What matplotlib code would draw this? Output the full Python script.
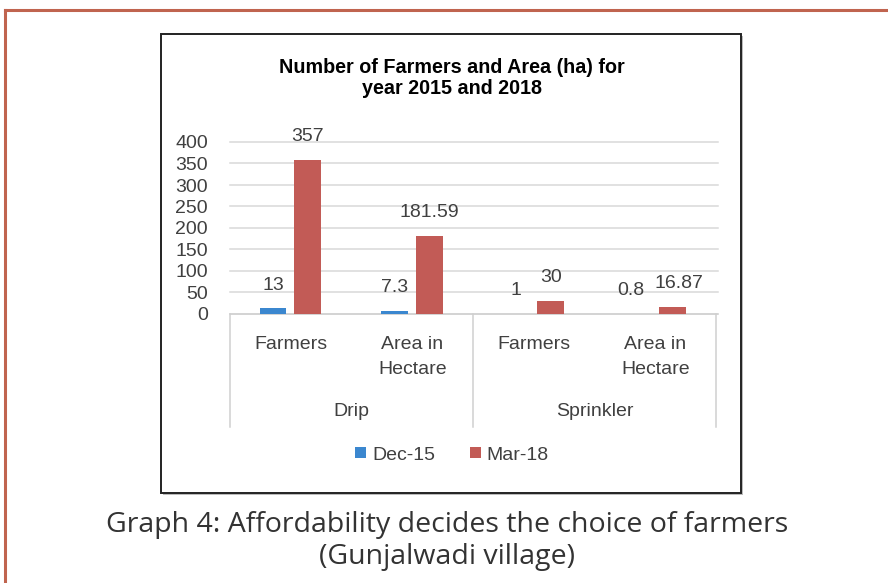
import numpy as np
import matplotlib
matplotlib.use("Agg")
import matplotlib.pyplot as plt
from matplotlib.patches import Rectangle
import matplotlib.transforms as mtransforms

# data
categories = ["Farmers", "Area in\nHectare", "Farmers", "Area in\nHectare"]
groups = ["Drip", "Sprinkler"]
dec15 = [13, 7.3, 1, 0.8]
mar18 = [357, 181.59, 30, 16.87]
dec15_lbl = ["13", "7.3", "1", "0.8"]
mar18_lbl = ["357", "181.59", "30", "16.87"]
series_names = ["Dec-15", "Mar-18"]

c_blue = "#3B87CF"
c_red = "#C25B56"
c_text = "#404040"
c_grid = "#D9D9D9"

W, H = 888, 583
fig = plt.figure(figsize=(W / 100, H / 100), dpi=100)
plt.rcParams['font.family'] = ['Liberation Sans', 'DejaVu Sans']

def fx(px):
    return px / W

def fy(py):
    return 1 - py / H

# outer brown frame (only top and left visible)
fig.add_artist(plt.Line2D([fx(5), 1.0], [fy(10), fy(10)], color="#C0644F", lw=2.2))
fig.add_artist(plt.Line2D([fx(5), fx(5)], [fy(10), 0.0], color="#C0644F", lw=2.2))

# chart box with light shadow
fig.add_artist(Rectangle((fx(163), fy(495)), fx(741) - fx(161), fy(34) - fy(493),
                         transform=fig.transFigure, fc="#BBBBBB", ec="none", zorder=0))
fig.add_artist(Rectangle((fx(161), fy(493)), fx(741) - fx(161), fy(34) - fy(493),
                         transform=fig.transFigure, fc="white", ec="#222222", lw=1.4, zorder=1))

# plot area
x0, x1, y0, y1 = 230, 716, 142, 314
ax = fig.add_axes([fx(x0), fy(y1), fx(x1) - fx(x0), fy(y0) - fy(y1)])
ax.set_zorder(2)
ax.patch.set_visible(False)

x = np.arange(len(categories))
wbar = 0.22
ax.bar(x - 0.145, dec15, width=wbar, color=c_blue, label=series_names[0], zorder=3)
ax.bar(x + 0.14, mar18, width=wbar, color=c_red, label=series_names[1], zorder=3)

fs = 14
# value labels (last pair nudged apart like excel does)
nudge = [0, 0, 0, 5]
for i in range(len(x)):
    ax.annotate(dec15_lbl[i], (x[i] - 0.145, dec15[i]), xytext=(-nudge[i], 16.5), textcoords="offset points",
                ha="center", va="center", fontsize=fs, color=c_text)
    ax.annotate(mar18_lbl[i], (x[i] + 0.14, mar18[i]), xytext=(nudge[i], 17), textcoords="offset points",
                ha="center", va="center", fontsize=fs, color=c_text)

ax.set_xlim(-0.5, 3.5)
ax.set_ylim(0, 400)
ax.set_yticks(np.arange(0, 401, 50))
ax.set_yticklabels([str(v) for v in range(0, 401, 50)])
ax.tick_params(axis="y", length=0, pad=16, labelsize=fs, labelcolor=c_text)
ax.set_xticks([])
for s in ax.spines.values():
    s.set_visible(False)
for v in range(0, 401, 50):
    ax.plot([-0.5, 3.52], [v, v], color=c_grid if v > 0 else "#C8C8C8", lw=1.1, zorder=1, clip_on=False)

# multi level category axis
trans = mtransforms.blended_transform_factory(ax.transData, ax.transAxes)
ybot = (y1 - 427) / (y1 - y0)
for xv in [-0.5, 1.5, 3.5]:
    ax.plot([xv, xv], [0, ybot], color="#D0D0D0", lw=1.1, transform=trans, clip_on=False)
for i, c in enumerate(categories):
    ax.text(x[i], (y1 - 336) / (y1 - y0), c, transform=trans, ha="center", va="top",
            fontsize=fs, color=c_text, linespacing=1.62)
for j, g in enumerate(groups):
    ax.text(0.5 + 2 * j, (y1 - 412) / (y1 - y0), g, transform=trans, ha="center", va="center",
            fontsize=fs, color=c_text)

# legend
fig.legend(loc="center", bbox_to_anchor=(fx(452), fy(455)), ncol=2, frameon=False,
           handlelength=0.55, handleheight=0.55, handletextpad=0.3, columnspacing=1.8,
           fontsize=fs, labelcolor=c_text)

# chart title
fig.text(fx(452), fy(78), "Number of Farmers and Area (ha) for\nyear 2015 and 2018",
         ha="center", va="center", fontsize=14.2, fontweight="bold", linespacing=1.15)

# caption
fig.text(fx(447), fy(541), "Graph 4: Affordability decides the choice of farmers\n(Gunjalwadi village)",
         ha="center", va="center", fontsize=20.5, color="#333333", family="Open Sans", linespacing=1.22)

fig.savefig("out.png", dpi=100)
